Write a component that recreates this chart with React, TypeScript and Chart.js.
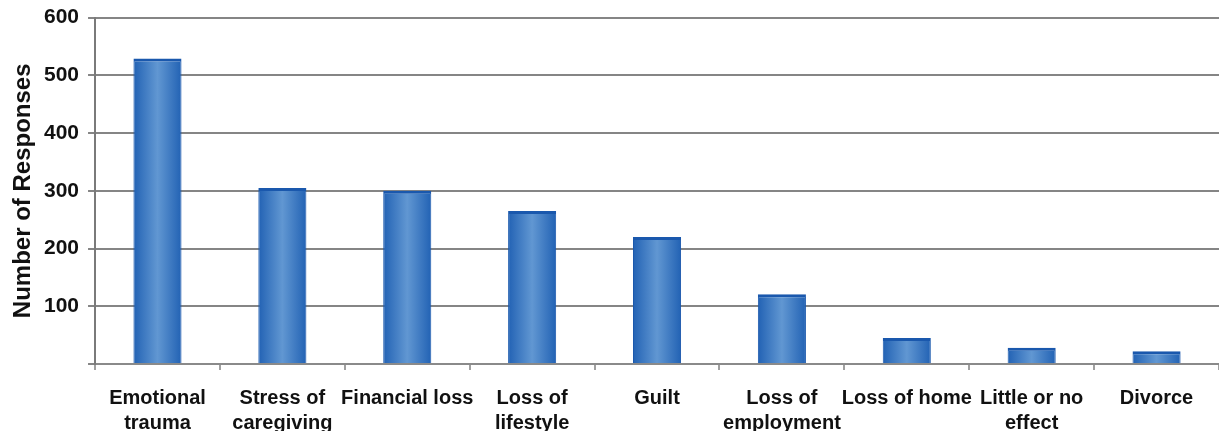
import React, { useEffect, useRef } from "react";
import { Chart, registerables } from "chart.js";

Chart.register(...registerables);

const categories: (string | string[])[] = [
  ["Emotional", "trauma"],
  ["Stress of", "caregiving"],
  "Financial loss",
  ["Loss of", "lifestyle"],
  "Guilt",
  ["Loss of", "employment"],
  "Loss of home",
  ["Little or no", "effect"],
  "Divorce",
];
const responses = [529, 305, 300, 265, 220, 121, 45, 28, 22];
const yTickValues = [100, 200, 300, 400, 500, 600];

const BAR_PCT = 0.385;
const FONT = "Liberation Sans, Arial, Helvetica, sans-serif";

export default function App() {
  const ref = useRef<HTMLCanvasElement | null>(null);
  useEffect(() => {
    document.body.style.margin = "0";
    const canvas = ref.current;
    if (!canvas) return;
    const chart = new Chart(canvas, {
      type: "bar",
      data: {
        labels: categories,
        datasets: [
          {
            data: responses,
            backgroundColor: (ctx: any) => {
              const c = ctx.chart;
              const xs = c.scales && c.scales.x;
              if (!xs || !isFinite(xs.width) || xs.width <= 0) return "#3f7fc6";
              const cx = xs.getPixelForValue(ctx.dataIndex);
              const w = (xs.width / categories.length) * BAR_PCT;
              const x0 = cx - w / 2;
              const x1 = cx + w / 2;
              if (!isFinite(x0) || !isFinite(x1)) return "#3f7fc6";
              const g = c.ctx.createLinearGradient(x0, 0, x1, 0);
              g.addColorStop(0, "#2262b4");
              g.addColorStop(0.5, "#6197d2");
              g.addColorStop(1, "#2262b4");
              return g;
            },
            borderColor: "#1a58ad",
            borderWidth: { left: 1, right: 1, top: 3, bottom: 0 },
            borderSkipped: "bottom",
            barPercentage: BAR_PCT,
            categoryPercentage: 1,
          },
        ],
      },
      options: {
        animation: false,
        responsive: false,
        maintainAspectRatio: false,
        layout: { padding: { top: 1, right: 0, left: 11, bottom: 0 } },
        plugins: { legend: { display: false }, tooltip: { enabled: false } },
        scales: {
          x: {
            offset: true,
            border: { display: true, color: "#8a8a8a", width: 2 },
            grid: {
              offset: true,
              drawOnChartArea: false,
              drawTicks: true,
              tickLength: 6,
              color: "#a0a0a0",
              lineWidth: 2,
            },
            ticks: {
              color: "#111",
              font: { family: FONT, size: 20, weight: "bold", lineHeight: 1.25 },
              maxRotation: 0,
              autoSkip: false,
              padding: 16,
            },
          },
          y: {
            min: 0,
            max: 600,
            border: { display: true, color: "#7a7a7a", width: 2 },
            afterBuildTicks: (axis: any) => {
              axis.ticks = [0, ...yTickValues].map((v) => ({ value: v }));
            },
            grid: {
              color: "#858585",
              lineWidth: 2,
              tickLength: 7,
            },
            ticks: {
              color: "#111",
              font: { family: FONT, size: 21, weight: "bold" },
              padding: 9,
              callback: (v: any) => (v === 0 ? "" : String(v)),
            },
            title: {
              display: true,
              text: "Number of Responses",
              color: "#111",
              font: { family: FONT, size: 24, weight: "bold", lineHeight: 1.0 },
              padding: { top: 0, bottom: 0 },
            },
          },
        },
      },
    });
    return () => chart.destroy();
  }, []);
  return (
    <div style={{ width: 1219, height: 431, overflow: "hidden" }}>
      <canvas
        ref={ref}
        width={1219}
        height={456}
        style={{ width: 1219, height: 456, display: "block", marginTop: -4 }}
      />
    </div>
  );
}
